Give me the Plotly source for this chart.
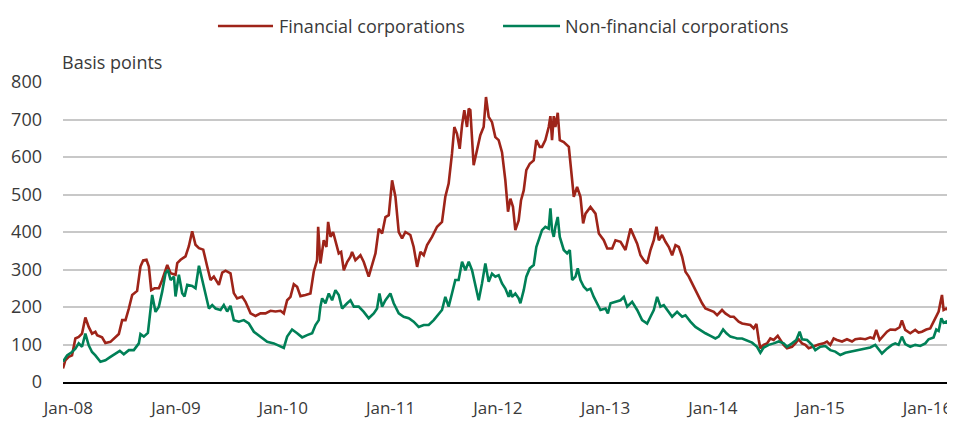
import numpy as np
import pandas as pd
import plotly.graph_objects as go

# Dates as decimal years, values in basis points
fin_t = [2007.950, 2007.972, 2008.003, 2008.034, 2008.065, 2008.096, 2008.127, 2008.158, 2008.189, 2008.220,
         2008.251, 2008.267, 2008.313, 2008.344, 2008.391, 2008.438, 2008.469, 2008.500, 2008.531, 2008.562,
         2008.593, 2008.639, 2008.670, 2008.695, 2008.726, 2008.748, 2008.770, 2008.801, 2008.841, 2008.872,
         2008.919, 2008.950, 2008.996, 2009.012, 2009.043, 2009.089, 2009.120, 2009.151, 2009.182, 2009.214,
         2009.254, 2009.291, 2009.322, 2009.353, 2009.400, 2009.431, 2009.462, 2009.508, 2009.539, 2009.570,
         2009.617, 2009.648, 2009.695, 2009.741, 2009.788, 2009.834, 2009.881, 2009.927, 2009.974,
         2010.005, 2010.036, 2010.067, 2010.098, 2010.129, 2010.160, 2010.207, 2010.253, 2010.284, 2010.315,
         2010.325, 2010.346, 2010.377, 2010.402, 2010.418, 2010.440, 2010.464, 2010.486, 2010.517, 2010.539,
         2010.564, 2010.595, 2010.626, 2010.641, 2010.672, 2010.719, 2010.750, 2010.796, 2010.828, 2010.859,
         2010.890, 2010.921, 2010.952, 2010.983, 2011.014, 2011.045, 2011.076, 2011.107, 2011.138, 2011.184,
         2011.215, 2011.247, 2011.278, 2011.309, 2011.340, 2011.386, 2011.433, 2011.479, 2011.510, 2011.541,
         2011.572, 2011.594, 2011.619, 2011.644, 2011.666, 2011.687, 2011.712, 2011.728, 2011.743, 2011.759,
         2011.774, 2011.805, 2011.836, 2011.867, 2011.889, 2011.914, 2011.945, 2011.976, 2012.007, 2012.038,
         2012.069, 2012.094, 2012.116,
         2012.140, 2012.162, 2012.193, 2012.215, 2012.240, 2012.264, 2012.296, 2012.333, 2012.357, 2012.389,
         2012.410, 2012.441, 2012.472, 2012.488, 2012.503, 2012.519, 2012.534, 2012.556, 2012.575, 2012.612,
         2012.659, 2012.674, 2012.690, 2012.705, 2012.736, 2012.767, 2012.792, 2012.814, 2012.860, 2012.907,
         2012.938, 2012.984, 2013.016, 2013.062, 2013.093, 2013.140, 2013.186, 2013.233, 2013.264, 2013.295,
         2013.326, 2013.357, 2013.388, 2013.419, 2013.450, 2013.475, 2013.497, 2013.528, 2013.559, 2013.590,
         2013.621, 2013.652, 2013.683, 2013.714, 2013.745, 2013.776, 2013.807, 2013.838, 2013.869, 2013.900,
         2013.931, 2013.962, 2014.009, 2014.040, 2014.086, 2014.117, 2014.164,
         2014.195, 2014.241, 2014.273, 2014.304, 2014.350, 2014.381, 2014.406, 2014.428, 2014.443, 2014.474,
         2014.505, 2014.536, 2014.567, 2014.605, 2014.630, 2014.660, 2014.691, 2014.738, 2014.769, 2014.800,
         2014.831, 2014.862, 2014.893, 2014.940, 2014.986, 2015.033, 2015.064, 2015.095, 2015.126, 2015.157,
         2015.204, 2015.250, 2015.297, 2015.328, 2015.374, 2015.421, 2015.467, 2015.498, 2015.523, 2015.554,
         2015.592, 2015.623, 2015.654, 2015.700, 2015.741, 2015.762, 2015.793, 2015.840, 2015.886, 2015.917,
         2015.949, 2015.989, 2016.026, 2016.057, 2016.082, 2016.104, 2016.119, 2016.135, 2016.150, 2016.175,
         2016.191]
fin_v = [36, 58, 67, 71, 116, 120, 129, 172, 147, 129,
         134, 125, 119, 104, 107, 120, 128, 165, 165, 196,
         232, 243, 308, 324, 326, 308, 245, 250, 250, 272,
         312, 290, 286, 317, 326, 335, 362, 402, 366, 357,
         353, 308, 272, 281, 259, 292, 297, 290, 237, 223,
         228, 214, 183, 176, 183, 183, 190, 188, 190,
         183, 218, 227, 261, 254, 229, 232, 236, 294, 325,
         414, 316, 378, 360, 427, 387, 400, 378, 343, 347,
         298, 320, 334, 347, 325, 338, 320, 281, 316, 343,
         409, 396, 440, 445, 538, 494, 400, 383, 400, 392,
         360, 307, 347, 338, 365, 387, 414, 427, 494, 529,
         609, 680, 662, 622, 685, 725, 680, 729, 725, 636,
         578, 618, 658, 680, 760, 707, 693, 653, 645, 613,
         538, 454, 489,
         467, 405, 431, 485, 511, 565, 582, 591, 645, 627,
         627, 645, 680, 709, 645, 709, 680, 718, 645, 640,
         627, 591, 538, 494, 520, 494, 423, 449, 467, 449,
         396, 378, 356, 356, 378, 374, 352, 409, 387, 369,
         338, 325, 316, 352, 378, 414, 378, 392, 374, 360,
         338, 365, 360, 334, 294, 281, 263, 245, 227, 210,
         196, 192, 187, 178, 192, 183, 174,
         174, 161, 156, 155, 152, 143, 155, 112, 90, 99,
         103, 116, 112, 123, 112, 99, 90, 94, 103, 114,
         103, 99, 90, 96, 100, 103, 108, 99, 116, 112,
         108, 114, 108, 114, 116, 114, 119, 116, 139, 112,
         123, 134, 140, 139, 146, 164, 139, 130, 139, 132,
         134, 140, 143, 161, 179, 188, 210, 232, 192, 196,
         192]

nonfin_t = [2007.950, 2007.988, 2008.034, 2008.065, 2008.096, 2008.127, 2008.158, 2008.189, 2008.220, 2008.251,
            2008.298, 2008.344, 2008.391, 2008.438, 2008.478, 2008.515, 2008.562, 2008.608, 2008.655, 2008.670,
            2008.701, 2008.739, 2008.763, 2008.779, 2008.810, 2008.841, 2008.872, 2008.903, 2008.925, 2008.950,
            2008.981, 2008.996, 2009.027, 2009.058, 2009.080, 2009.105, 2009.151, 2009.182, 2009.214, 2009.245,
            2009.276, 2009.307, 2009.338, 2009.369, 2009.415, 2009.446, 2009.477, 2009.508, 2009.539, 2009.586,
            2009.632, 2009.679, 2009.726, 2009.788, 2009.850, 2009.912, 2009.958, 2010.005,
            2010.036, 2010.082, 2010.129, 2010.176, 2010.222, 2010.269, 2010.300, 2010.331, 2010.346, 2010.362,
            2010.393, 2010.424, 2010.455, 2010.486, 2010.517, 2010.548, 2010.595, 2010.626, 2010.657, 2010.703,
            2010.750, 2010.796, 2010.843, 2010.874, 2010.896, 2010.921, 2010.952, 2010.998, 2011.029, 2011.076,
            2011.122, 2011.169, 2011.215, 2011.262, 2011.309, 2011.355, 2011.402, 2011.448, 2011.479, 2011.510,
            2011.541, 2011.572, 2011.603, 2011.634, 2011.666, 2011.697, 2011.728, 2011.759, 2011.790, 2011.821,
            2011.852, 2011.883, 2011.914, 2011.945, 2011.976, 2012.007, 2012.038, 2012.069, 2012.100, 2012.116,
            2012.131, 2012.162, 2012.193, 2012.209, 2012.240, 2012.264, 2012.296, 2012.333, 2012.357, 2012.379,
            2012.410, 2012.441, 2012.472, 2012.488, 2012.503, 2012.519, 2012.534, 2012.556, 2012.575, 2012.612,
            2012.643, 2012.668, 2012.690, 2012.721, 2012.742, 2012.767, 2012.798, 2012.829, 2012.860, 2012.891,
            2012.922, 2012.953, 2013.000, 2013.022, 2013.047, 2013.093, 2013.140, 2013.171, 2013.202, 2013.248,
            2013.295, 2013.341, 2013.388, 2013.419, 2013.450, 2013.481, 2013.512, 2013.543, 2013.574, 2013.621,
            2013.667, 2013.714, 2013.745, 2013.791, 2013.838, 2013.884, 2013.931, 2013.978, 2014.024, 2014.055,
            2014.096, 2014.127, 2014.164,
            2014.195, 2014.226, 2014.273, 2014.319, 2014.366, 2014.412, 2014.443, 2014.474, 2014.521, 2014.567,
            2014.614, 2014.660, 2014.691, 2014.738, 2014.778, 2014.809, 2014.831, 2014.878, 2014.924, 2014.955,
            2015.002, 2015.048, 2015.095, 2015.141, 2015.188, 2015.235, 2015.281, 2015.328, 2015.374, 2015.421,
            2015.467, 2015.514, 2015.545, 2015.576, 2015.623, 2015.669, 2015.700, 2015.731, 2015.762, 2015.793,
            2015.840, 2015.886, 2015.933, 2015.980, 2016.011, 2016.057, 2016.082, 2016.104, 2016.129, 2016.150,
            2016.175, 2016.191]
nonfin_v = [54, 71, 80, 89, 103, 94, 129, 98, 80, 71,
            54, 58, 67, 76, 83, 74, 85, 85, 103, 128,
            121, 131, 183, 232, 187, 201, 241, 290, 299, 272,
            281, 228, 286, 237, 228, 259, 256, 250, 310, 272,
            237, 196, 205, 196, 192, 205, 188, 203, 165, 161,
            165, 156, 134, 120, 107, 103, 98, 91,
            121, 140, 130, 119, 125, 130, 152, 165, 201, 223,
            210, 236, 218, 245, 232, 196, 210, 218, 201, 201,
            187, 170, 183, 196, 236, 201, 218, 236, 210, 183,
            174, 170, 161, 147, 152, 152, 165, 183, 192, 227,
            201, 236, 272, 272, 321, 298, 321, 298, 254, 218,
            263, 316, 267, 289, 281, 285, 263, 249, 227, 245,
            227, 236, 223, 210, 245, 281, 303, 312, 360, 378,
            405, 414, 409, 463, 405, 387, 414, 440, 387, 352,
            343, 352, 272, 281, 303, 272, 254, 245, 249, 227,
            210, 192, 196, 183, 210, 214, 218, 227, 201, 214,
            192, 165, 156, 174, 192, 227, 201, 205, 192, 174,
            187, 174, 178, 161, 147, 138, 130, 123, 116, 121,
            140, 130, 121,
            119, 116, 116, 110, 105, 94, 78, 92, 99, 103,
            108, 103, 94, 103, 112, 134, 114, 112, 99, 85,
            94, 96, 85, 81, 72, 78, 81, 85, 87, 89,
            92, 99, 89, 76, 89, 99, 103, 99, 121, 101,
            94, 99, 96, 103, 114, 119, 140, 136, 170, 158,
            161, 156]

series_names = ["Financial corporations", "Non-financial corporations"]
tick_years = [2008, 2009, 2010, 2011, 2012, 2013, 2014, 2015, 2016]
tick_labels = ["Jan-08", "Jan-09", "Jan-10", "Jan-11", "Jan-12", "Jan-13", "Jan-14", "Jan-15", "Jan-16"]


def to_dates(ts):
    out = []
    for t in ts:
        y = int(np.floor(t))
        frac = t - y
        start = pd.Timestamp(year=y, month=1, day=1)
        days = (pd.Timestamp(year=y + 1, month=1, day=1) - start).days
        out.append(start + pd.Timedelta(days=frac * days))
    return out


fin_d = to_dates(fin_t)
nonfin_d = to_dates(nonfin_t)
tick_vals = [pd.Timestamp(year=y, month=1, day=1) for y in tick_years]

RED = "#9e2419"
GREEN = "#008057"
FONT = "Open Sans"
TXT = "#3a3a3a"
FS = 18

# The page body adds an 8px offset, so the figure is 8px smaller on each axis
fig = go.Figure()
fig.add_trace(go.Scatter(x=fin_d, y=fin_v, mode="lines", name=series_names[0],
                         line=dict(color=RED, width=2.6), showlegend=False))
fig.add_trace(go.Scatter(x=nonfin_d, y=nonfin_v, mode="lines", name=series_names[1],
                         line=dict(color=GREEN, width=2.6), showlegend=False))

# Legend drawn in paper space (long line samples as in the original)
LEG_Y = 1.1867
legend_items = [(series_names[0], RED, 0.1751, 0.2373, 0.2441),
                (series_names[1], GREEN, 0.4972, 0.5616, 0.5672)]
shapes = []
annotations = []
for name, col, x0, x1, xt in legend_items:
    shapes.append(dict(type="line", xref="paper", yref="paper", x0=x0, x1=x1, y0=LEG_Y, y1=LEG_Y,
                       line=dict(color=col, width=2.4)))
    annotations.append(dict(text=name, xref="paper", yref="paper", x=xt, y=LEG_Y,
                            xanchor="left", yanchor="middle", showarrow=False, xshift=-2,
                            font=dict(family=FONT, size=FS, color=TXT)))
annotations.append(dict(text="Basis points", xref="paper", yref="paper", x=0, y=1.067,
                        xanchor="left", yanchor="middle", showarrow=False, xshift=-3,
                        font=dict(family=FONT, size=FS, color=TXT)))

fig.update_layout(
    width=947, height=413,
    margin=dict(l=55, r=7, t=74, b=39, autoexpand=False),
    paper_bgcolor="white", plot_bgcolor="white",
    font=dict(family=FONT, size=FS, color=TXT),
    showlegend=False,
    shapes=shapes,
    annotations=annotations,
)

fig.update_xaxes(
    range=[fin_d[0], fin_d[-1]], automargin=False,
    tickvals=tick_vals, ticktext=tick_labels,
    showgrid=False, zeroline=False,
    showline=True, linecolor="black", linewidth=1.5,
    ticks="", ticklabelstandoff=10,
    tickfont=dict(family=FONT, size=17, color=TXT),
)
fig.update_yaxes(
    range=[0, 800], dtick=100, tick0=0, automargin=False,
    showgrid=True, gridcolor="#c8c8c8", gridwidth=1.5,
    zeroline=False, showline=False, ticks="", ticklabelstandoff=20,
    tickfont=dict(family=FONT, size=FS, color=TXT),
)

fig.write_html("out.html")
